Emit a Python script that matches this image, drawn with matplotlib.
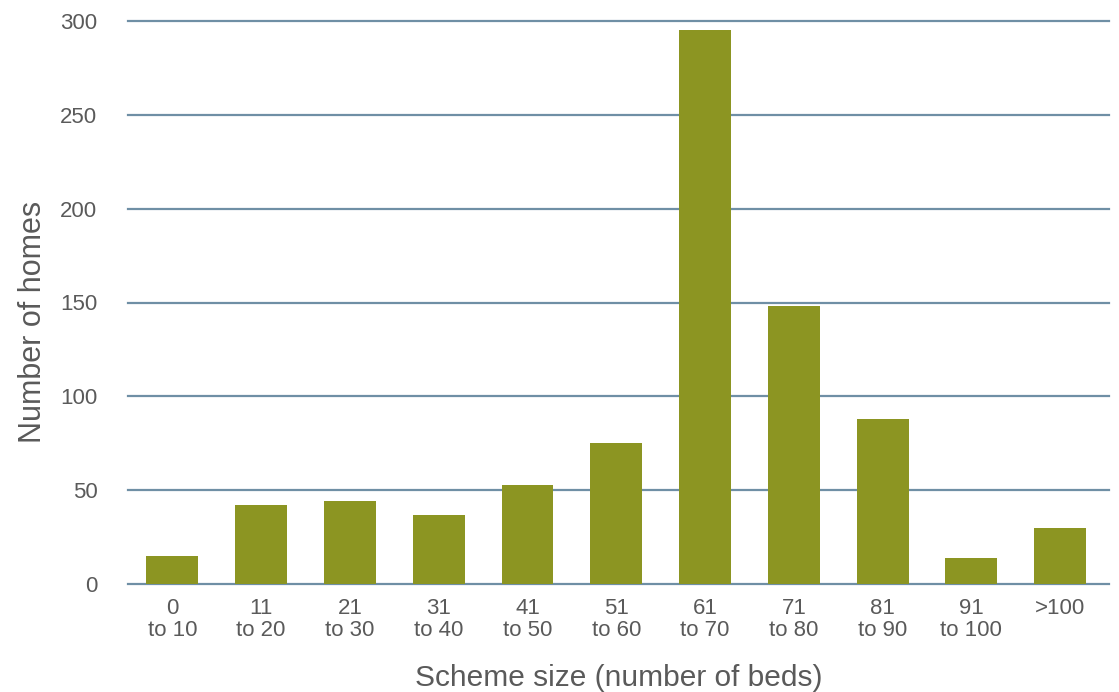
import numpy as np
import matplotlib.pyplot as plt

# Данные с графика
categories = ['0\nto 10', '11\nto 20', '21\nto 30', '31\nto 40', '41\nto 50',
              '51\nto 60', '61\nto 70', '71\nto 80', '81\nto 90', '91\nto 100', '>100']
homes = [15, 42, 44, 37, 53, 75, 295, 148, 88, 14, 30]
y_ticks = [0, 50, 100, 150, 200, 250, 300]

bar_color = '#8c9522'
grid_color = '#6f8fa5'
text_color = '#5a5a5a'

plt.rcParams['font.family'] = ['Liberation Sans', 'DejaVu Sans']

fig = plt.figure(figsize=(11.19, 6.92), dpi=100)
ax = fig.add_axes([128 / 1119, (692 - 584) / 692, (1109 - 128) / 1119, (584 - 21) / 692])

x = np.arange(len(categories))
ax.bar(x, homes, width=0.585, color=bar_color, zorder=3)

ax.set_xlim(-0.5, 10.55)
ax.set_ylim(0, 300)
ax.set_yticks(y_ticks)
for t in y_ticks:
    ax.axhline(t, color=grid_color, lw=1.6, zorder=1, clip_on=False)

ax.set_xticks(x)
ax.set_xticklabels(categories, fontsize=16, color=text_color, linespacing=1.1)
ax.tick_params(axis='x', length=0, pad=10)
ax.tick_params(axis='y', length=0, pad=22, labelsize=16, labelcolor=text_color)

for s in ax.spines.values():
    s.set_visible(False)

ax.set_xlabel('Scheme size (number of beds)', fontsize=21.5, color=text_color)
ax.set_ylabel('Number of homes', fontsize=22, color=text_color)
ax.xaxis.set_label_coords(0.5, -0.142)
ax.yaxis.set_label_coords(-0.082, 0.465)

fig.savefig('out.png', dpi=100)
